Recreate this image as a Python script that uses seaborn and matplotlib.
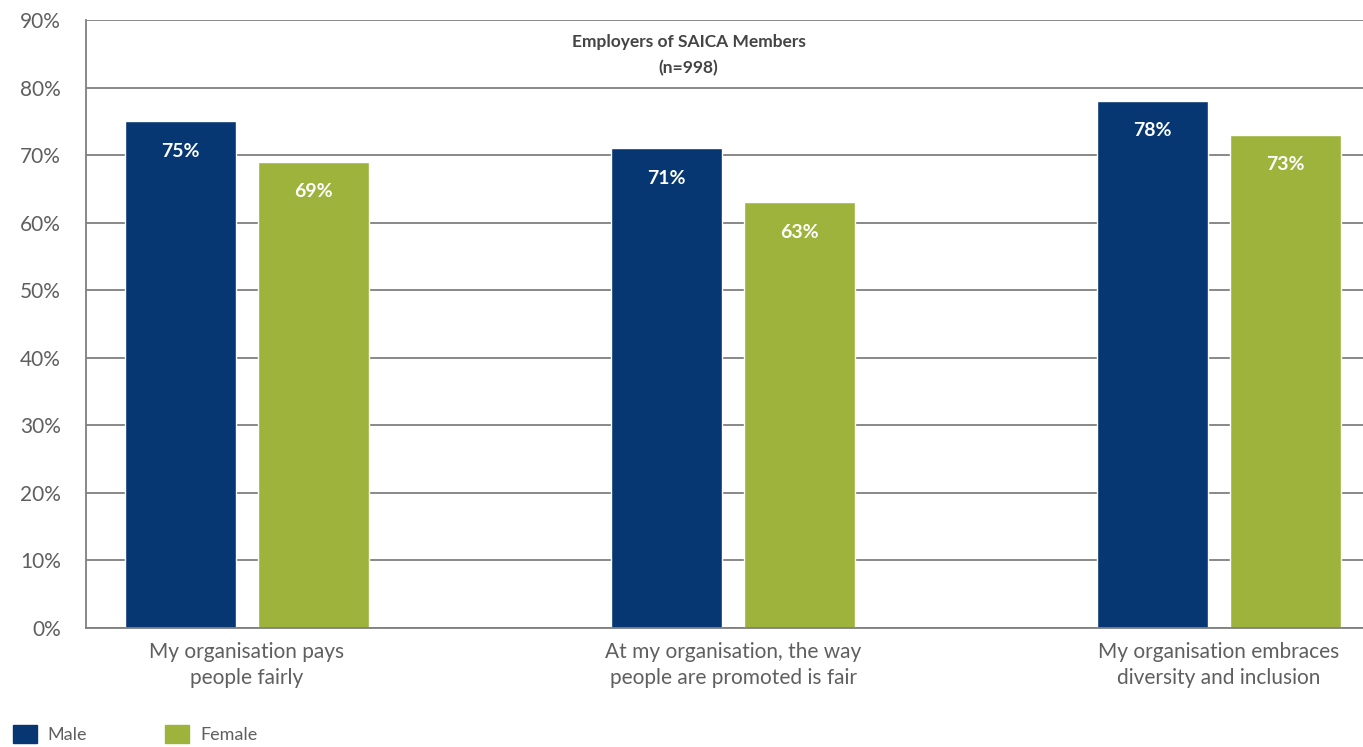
import matplotlib
matplotlib.use("Agg")
import matplotlib.pyplot as plt
import matplotlib.patches as mpatches
import pandas as pd
import seaborn as sns

statements = [
    "My organisation pays\npeople fairly",
    "At my organisation, the way\npeople are promoted is fair",
    "My organisation embraces\ndiversity and inclusion",
]
genders = ["Male", "Female"]
male_pct = [75, 71, 78]
female_pct = [69, 63, 73]
y_ticks = [0, 10, 20, 30, 40, 50, 60, 70, 80, 90]
title_text = "Employers of SAICA Members\n(n=998)"

palette = {"Male": "#063772", "Female": "#9DB33C"}
grey = "#5f5f5f"
grid_grey = "#7f7f7f"

df = pd.DataFrame({
    "statement": statements * 2,
    "gender": ["Male"] * 3 + ["Female"] * 3,
    "pct": male_pct + female_pct,
})

sns.set_theme(style="white")
plt.rcParams["font.family"] = ["Lato", "DejaVu Sans"]

fig = plt.figure(figsize=(13.63, 7.47), dpi=100)
ax = fig.add_axes([86 / 1363, 1 - 628 / 747, 1 - 86 / 1363, (628 - 20) / 747])

sns.barplot(data=df, x="statement", y="pct", hue="gender", order=statements,
            hue_order=genders, palette=palette, width=0.547, gap=0.168,
            saturation=1, ax=ax, legend=False, zorder=2)

ax.set_ylim(0, 90)
ax.set_xlim(-0.331, 2.296)
ax.set_yticks(y_ticks)
ax.set_yticklabels([f"{v}%" for v in y_ticks], fontsize=15, color=grey)
ax.tick_params(axis="x", labelsize=15, labelcolor=grey, length=0, pad=10)
ax.tick_params(axis="y", length=0, pad=18)
for lbl in ax.get_xticklabels():
    lbl.set_linespacing(1.4)
ax.set_xlabel("")
ax.set_ylabel("")

ax.yaxis.grid(True, color=grid_grey, linewidth=1.3, zorder=0)
ax.set_axisbelow(True)
for side in ["top", "right"]:
    ax.spines[side].set_visible(False)
for side in ["left", "bottom"]:
    ax.spines[side].set_color(grid_grey)
    ax.spines[side].set_linewidth(1.3)

for container in ax.containers:
    for bar in container:
        h = bar.get_height()
        ax.text(bar.get_x() + bar.get_width() / 2, h - 4.4, f"{h:.0f}%",
                ha="center", va="center", color="white",
                fontsize=14, fontweight="bold")

ax.text(0.472, 0.942, title_text, transform=ax.transAxes, ha="center",
        va="center", fontsize=12.5, fontweight="bold", color="#444444",
        linespacing=1.8)

handles = [mpatches.Patch(color=palette[g], label=g) for g in genders]
fig.legend(handles=handles, loc="lower left", bbox_to_anchor=(0.0, -0.012),
           ncol=2, frameon=False, fontsize=13, labelcolor=grey,
           handlelength=1.35, handleheight=1.2, handletextpad=0.6,
           columnspacing=4.3, borderaxespad=0.3)

fig.savefig("out.png", dpi=100)
